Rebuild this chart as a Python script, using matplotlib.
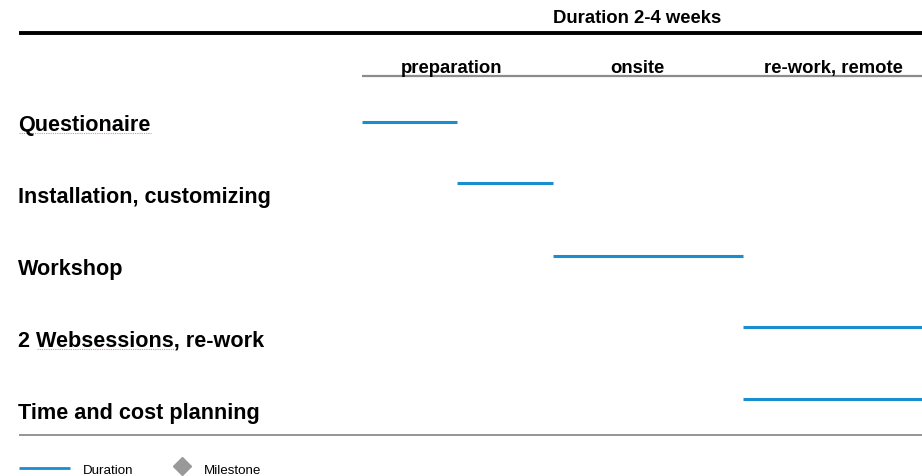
import matplotlib
matplotlib.use("Agg")
import matplotlib.pyplot as plt
from matplotlib import font_manager

# data
tasks = ["Questionaire", "Installation, customizing", "Workshop",
         "2 Websessions, re-work", "Time and cost planning"]
start = [0, 1, 2, 4, 4]
duration = [1, 1, 2, 2, 2]
phases = ["preparation", "onsite", "re-work, remote"]
title = "Duration 2-4 weeks"

blue = "#1a8dcf"
grey = "#8c8c8c"

W, H = 922, 477
unit = 95.3      # pixel per time unit
x0 = 362         # pixel where time 0 starts

names = [f.name for f in font_manager.fontManager.ttflist]
narrow = "Liberation Sans Narrow" if "Liberation Sans Narrow" in names else "Liberation Sans"
plt.rcParams["font.family"] = ["Liberation Sans", "DejaVu Sans"]

fig = plt.figure(figsize=(W / 100, H / 100), dpi=100)
ax = fig.add_axes([0, 0, 1, 1])
ax.set_xlim(-x0 / unit, (W - x0) / unit)
ax.set_ylim(H, 0)
ax.axis("off")

def px(x):  # figure pixel -> data x
    return (x - x0) / unit

# header
ax.text(px(637), 23, title, ha="center", va="baseline", fontsize=13.3,
        fontweight="bold", family=narrow)
ax.plot([px(19), px(W)], [34, 34], color="black", lw=2.8, solid_capstyle="butt")

phase_x = [452, 637, 833]
for name, xc in zip(phases, phase_x):
    ax.text(px(xc), 73, name, ha="center", va="baseline", fontsize=13.3,
            fontweight="bold", family=narrow)
ax.plot([px(362), px(W)], [77, 77], color=grey, lw=1.6, solid_capstyle="butt")

# rows
bar_offset = [-8, -19, -18, -19, -19]
labels = []
for i, (t, s, d) in enumerate(zip(tasks, start, duration)):
    base = 131 + 72 * i
    labels.append(ax.text(px(18), base, t, ha="left", va="baseline",
                          fontsize=15.6, fontweight="bold"))
    ax.plot([s, s + d], [base + bar_offset[i]] * 2, color=blue, lw=2.2,
            solid_capstyle="butt")

# spell check squiggles (as in the screenshot)
fig.canvas.draw()
r = fig.canvas.get_renderer()
for i, word_part in [(0, "Questionaire"), (3, "Websessions")]:
    txt = tasks[i]
    pre = txt[:txt.index(word_part)]
    tmp = ax.text(px(18), 0, pre, fontsize=15.6, fontweight="bold")
    w_pre = tmp.get_window_extent(r).width if pre else 0
    tmp.remove()
    tmp = ax.text(px(18), 0, word_part, fontsize=15.6, fontweight="bold")
    w_word = tmp.get_window_extent(r).width
    tmp.remove()
    y = 131 + 72 * i + 3
    ax.plot([px(19 + w_pre), px(19 + w_pre + w_word)], [y, y], color="#e06060",
            lw=0.8, ls=(0, (1, 1)), alpha=0.7)

ax.plot([px(19), px(W)], [436, 436], color=grey, lw=1.3, solid_capstyle="butt")

# legend
ax.plot([px(19), px(70)], [469, 469], color=blue, lw=2, solid_capstyle="butt")
ax.text(px(83), 474, "Duration", ha="left", va="baseline", fontsize=9.6)
ax.plot([px(182)], [467], marker="D", color="#999999", markersize=9, lw=0)
ax.text(px(204), 474, "Milestone", ha="left", va="baseline", fontsize=9.6)

fig.savefig("out.png", dpi=100)
